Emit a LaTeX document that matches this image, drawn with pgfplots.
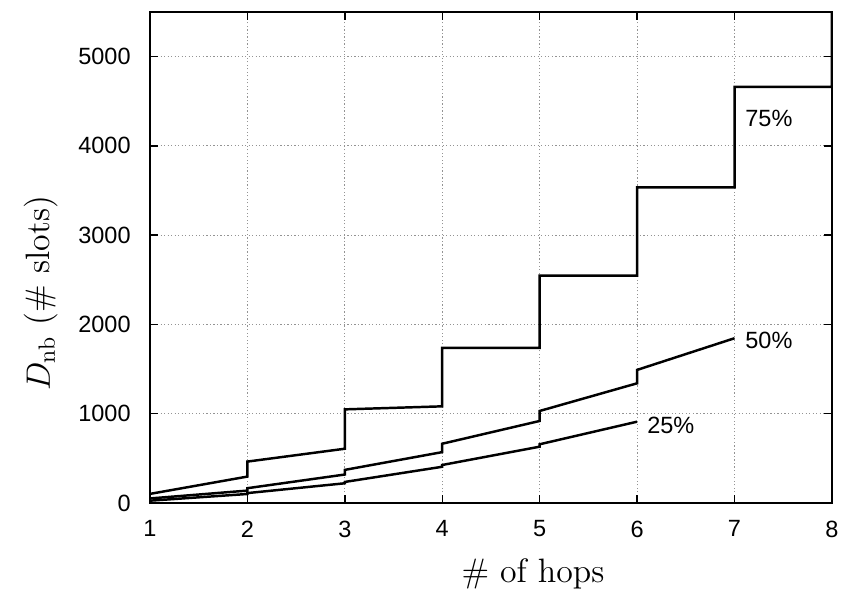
\documentclass[border=0pt]{standalone}
\usepackage{pgfplots}
\pgfplotsset{compat=1.18}
\usepackage{fontspec}
\newfontfamily\helv{Liberation Sans}
\begin{document}
\begin{tikzpicture}
\begin{axis}[
  name=ax,
  scale only axis,
  width=290.2pt, height=208.9pt,
  xmin=1, xmax=8, ymin=0, ymax=5500,
  xtick={1,2,3,4,5,6,7,8},
  ytick={0,1000,2000,3000,4000,5000},
  tick pos=both, tick align=inside,
  major tick length=3.5pt,
  axis line style={line width=0.6pt},
  every tick/.style={black, line width=0.6pt},
  grid=major,
  major grid style={gray!85, line width=0.5pt, dash pattern=on 0.5pt off 1pt},
  /pgf/number format/assume math mode=true,
  /pgf/number format/1000 sep={},
  tick label style={font=\helv\fontsize{10}{12}\selectfont},
  xticklabel style={yshift=-4pt},
  yticklabel style={xshift=-4.7pt},
  xlabel={\# of hops},
  ylabel={$D_{\mathrm{nb}}$ (\# slots)},
  label style={font=\Large},
  xlabel style={at={(axis description cs:0.5616,0)}, anchor=base, yshift=-34pt},
  ylabel style={at={(axis description cs:-0.1468,0.4267)}, anchor=base},
  clip=true,
]
\addplot[black, line width=1.05pt] coordinates {
 (1,101) (2,295) (2,463) (3,607) (3,1048) (4,1082) (4,1737) (5,1737)
 (5,2547) (6,2547) (6,3535) (7,3535) (7,4660) (8,4660) (8,6000)};
\addplot[black, line width=1.05pt] coordinates {
 (1,50) (2,138) (2,165) (3,318) (3,370) (4,569) (4,663) (5,918)
 (5,1030) (6,1340) (6,1490) (7,1845)};
\addplot[black, line width=1.05pt] coordinates {
 (1,25) (2,100) (2,110) (3,220) (3,235) (4,405) (4,425) (5,630)
 (5,657) (6,910)};
\node[anchor=west, inner sep=0pt, font=\helv\fontsize{10}{12}\selectfont] at (axis cs:6.10,872) {25\%};
\node[anchor=west, inner sep=0pt, font=\helv\fontsize{10}{12}\selectfont] at (axis cs:7.107,1818) {50\%};
\node[anchor=west, inner sep=0pt, font=\helv\fontsize{10}{12}\selectfont] at (axis cs:7.107,4312) {75\%};
\end{axis}
\pgfresetboundingbox
\path ([shift={(-63.8pt,-38.7pt)}]ax.south west) rectangle ([shift={(4.7pt,5.1pt)}]ax.north east);
\end{tikzpicture}
\end{document}
